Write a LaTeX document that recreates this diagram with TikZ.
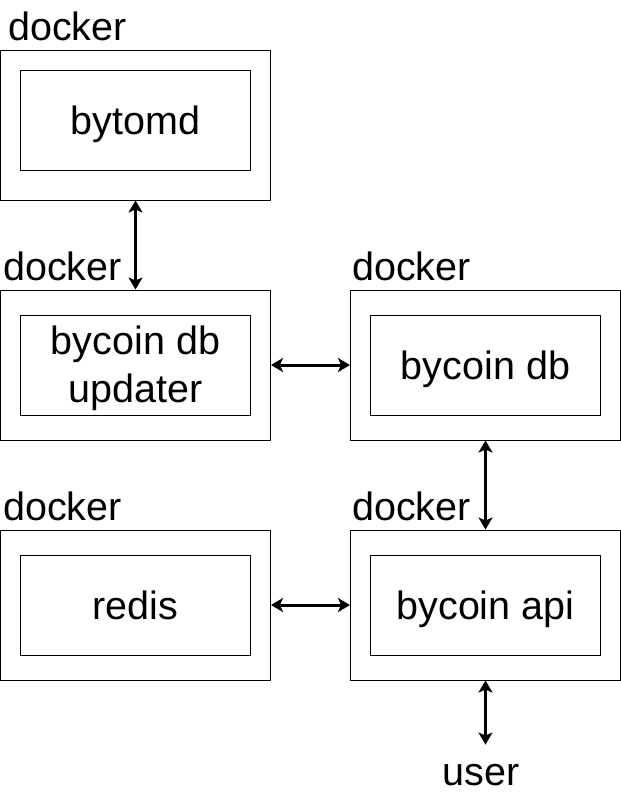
\documentclass[tikz,border=0pt]{standalone}
\usepackage{fontspec}
\setmainfont{Liberation Sans}
\usetikzlibrary{arrows.meta, positioning}

\begin{document}
\begin{tikzpicture}[x=1pt, y=-1pt,
	container/.style={draw, line width=1pt, minimum width=270pt, minimum height=150pt, inner sep=0pt},
	service/.style={draw, line width=1pt, minimum width=230pt, minimum height=100pt, inner sep=0pt, align=center, text height=34pt, text depth=6pt, font=\fontsize{39.5}{48}\selectfont},
	tag/.style={anchor=base west, inner sep=0pt, font=\fontsize{39.5}{48}\selectfont},
	link/.style={line width=3pt, {Stealth[length=12pt, width=14pt, inset=3pt]}-{Stealth[length=12pt, width=14pt, inset=3pt]}}]
	\useasboundingbox (0,0) rectangle (621,796);
	% containers
	\node[container] (bytomdbox) at (135.5,125) {};
	\node[container] (updaterbox) at (135.5,365) {};
	\node[container] (dbbox) at (485.5,365) {};
	\node[container] (redisbox) at (135.5,605) {};
	\node[container] (apibox) at (485.5,605) {};
	\node[tag] at (8,40) {docker};
	\node[tag] at (3,280) {docker};
	\node[tag] at (352,280) {docker};
	\node[tag] at (3,520) {docker};
	\node[tag] at (352,520) {docker};
	% services
	\node[service] (bytomd) at (135.5,120) {bytomd};
	\node[service, text height=82pt, text depth=8pt] (updater) at (updaterbox) {bycoin db\\updater};
	\node[service] (db) at (dbbox) {bycoin db};
	\node[service] (redis) at (redisbox) {redis};
	\node[service] (api) at (apibox) {bycoin api};
	\node[tag, anchor=base] (user) at (481,785) {user};
	% links
	\draw[link] (bytomdbox) -- (updaterbox);
	\draw[link] (updaterbox) -- (dbbox);
	\draw[link] (dbbox) -- (apibox);
	\draw[link] (redisbox) -- (apibox);
	\draw[link, shorten >=19pt] (apibox.south) -- (apibox.south |- user.north);
\end{tikzpicture}
\end{document}
